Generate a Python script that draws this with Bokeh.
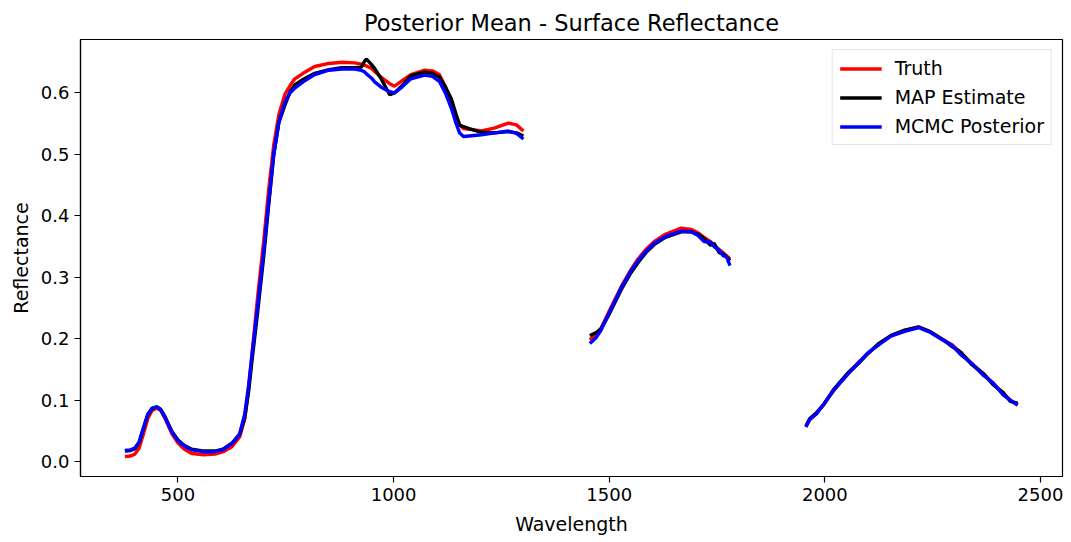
import numpy as np
from bokeh.plotting import figure
from bokeh.models import Legend, LegendItem, NumeralTickFormatter, FixedTicker, Range1d
from bokeh.embed import file_html
from bokeh.resources import INLINE

# ---- data ----
wl_seg1 = [377, 390, 400, 410, 420, 430, 440, 451, 460, 470, 486, 500, 515, 532, 560, 586, 605, 625, 643, 655,
           664, 671, 685, 699, 710, 722, 734, 748, 760, 771, 790, 817, 850, 880, 910, 925, 933, 937, 949, 956,
           972, 991, 1002, 1020, 1040, 1072, 1090, 1106, 1120, 1134, 1145, 1153, 1162, 1175, 1204, 1235, 1266, 1285, 1301]
truth_seg1 = [0.008, 0.009, 0.012, 0.022, 0.045, 0.070, 0.083, 0.087, 0.083, 0.070, 0.045, 0.030, 0.020, 0.013, 0.011,
              0.012, 0.016, 0.024, 0.040, 0.070, 0.120, 0.170, 0.270, 0.360, 0.440, 0.515, 0.565, 0.598, 0.612, 0.623,
              0.632, 0.643, 0.648, 0.650, 0.649, 0.647, 0.645, 0.644, 0.640, 0.635, 0.625, 0.615, 0.611, 0.620, 0.630,
              0.637, 0.636, 0.630, 0.610, 0.580, 0.560, 0.548, 0.542, 0.541, 0.538, 0.543, 0.551, 0.548, 0.538]
map_seg1 = [0.017, 0.018, 0.021, 0.031, 0.054, 0.076, 0.086, 0.089, 0.085, 0.073, 0.049, 0.035, 0.026, 0.020, 0.017,
            0.017, 0.020, 0.030, 0.044, 0.072, 0.115, 0.160, 0.245, 0.335, 0.415, 0.498, 0.552, 0.580, 0.602, 0.613,
            0.622, 0.632, 0.638, 0.641, 0.641, 0.642, 0.652, 0.655, 0.646, 0.640, 0.622, 0.597, 0.600, 0.612, 0.628,
            0.634, 0.632, 0.626, 0.610, 0.590, 0.565, 0.548, 0.545, 0.542, 0.536, 0.535, 0.537, 0.535, 0.530]
mcmc_seg1 = [0.018, 0.019, 0.022, 0.032, 0.055, 0.077, 0.087, 0.089, 0.084, 0.072, 0.048, 0.034, 0.025, 0.019, 0.016,
             0.016, 0.020, 0.029, 0.045, 0.078, 0.125, 0.170, 0.255, 0.343, 0.420, 0.500, 0.553, 0.585, 0.600, 0.608,
             0.618, 0.630, 0.637, 0.639, 0.639, 0.637, 0.634, 0.631, 0.624, 0.618, 0.609, 0.602, 0.600, 0.610, 0.623,
             0.629, 0.627, 0.619, 0.600, 0.575, 0.550, 0.535, 0.529, 0.530, 0.532, 0.535, 0.538, 0.534, 0.525]

wl_seg2 = [1455, 1470, 1481, 1500, 1528, 1550, 1567, 1585, 1604, 1630, 1667, 1690, 1706, 1720, 1735, 1743, 1755, 1764, 1772, 1780]
truth_seg2 = [0.198, 0.208, 0.217, 0.245, 0.285, 0.312, 0.330, 0.345, 0.358, 0.370, 0.380, 0.378, 0.372, 0.365, 0.358,
              0.352, 0.345, 0.340, 0.335, 0.330]
map_seg2 = [0.205, 0.210, 0.216, 0.240, 0.280, 0.307, 0.324, 0.340, 0.353, 0.365, 0.374, 0.374, 0.370, 0.363, 0.352,
            0.355, 0.340, 0.338, 0.333, 0.327]
mcmc_seg2 = [0.192, 0.202, 0.214, 0.242, 0.283, 0.310, 0.327, 0.342, 0.355, 0.366, 0.375, 0.374, 0.368, 0.358, 0.357,
             0.350, 0.344, 0.335, 0.333, 0.319]

wl_seg3 = [1956, 1965, 1980, 1998, 2020, 2053, 2080, 2100, 2125, 2153, 2185, 2218, 2245, 2275, 2295, 2315, 2340, 2368,
           2390, 2414, 2430, 2447]
truth_seg3 = [0.058, 0.068, 0.078, 0.094, 0.115, 0.143, 0.163, 0.176, 0.192, 0.205, 0.213, 0.219, 0.211, 0.198, 0.190,
              0.177, 0.160, 0.142, 0.127, 0.110, 0.100, 0.092]
map_seg3 = [0.057, 0.070, 0.079, 0.093, 0.117, 0.144, 0.161, 0.176, 0.192, 0.205, 0.214, 0.219, 0.211, 0.198, 0.187,
            0.178, 0.158, 0.143, 0.125, 0.112, 0.098, 0.095]
mcmc_seg3 = [0.056, 0.069, 0.077, 0.094, 0.116, 0.142, 0.162, 0.177, 0.190, 0.204, 0.212, 0.218, 0.210, 0.197, 0.189,
             0.174, 0.160, 0.140, 0.128, 0.108, 0.100, 0.092]

x_ticks = [500, 1000, 1500, 2000, 2500]
y_ticks = [0.0, 0.1, 0.2, 0.3, 0.4, 0.5, 0.6]


def join(*segs):
    out = []
    for i, s in enumerate(segs):
        if i:
            out.append(np.nan)
        out.extend(s)
    return np.array(out, dtype=float)


wl = join(wl_seg1, wl_seg2, wl_seg3)
truth = join(truth_seg1, truth_seg2, truth_seg3)
map_est = join(map_seg1, map_seg2, map_seg3)
mcmc = join(mcmc_seg1, mcmc_seg2, mcmc_seg3)

FONT = "DejaVu Sans"

p = figure(width=1071, height=542, output_backend="svg", toolbar_location=None,
           x_range=Range1d(274, 2551), y_range=Range1d(-0.0244, 0.687),
           min_border_left=80, min_border_right=9, min_border_top=39, min_border_bottom=66,
           title="Posterior Mean - Surface Reflectance")
p.title.align = "center"
p.title.text_font = FONT
p.title.text_font_size = "22.5px"
p.title.text_font_style = "normal"
p.title.text_color = "black"
p.title.standoff = 8
p.title.offset = 0

p.grid.visible = False
p.outline_line_color = "black"
p.outline_line_width = 1.2

lw = 3.4
r1 = p.line(wl, truth, line_color="red", line_width=lw)
r2 = p.line(wl, map_est, line_color="black", line_width=lw)
r3 = p.line(wl, mcmc, line_color="blue", line_width=lw)

for ax in (p.xaxis[0], p.yaxis[0]):
    ax.axis_line_color = "black"
    ax.axis_line_width = 1.2
    ax.major_tick_line_color = "black"
    ax.major_tick_line_width = 1.2
    ax.major_tick_out = 6
    ax.major_tick_in = 0
    ax.minor_tick_line_color = None
    ax.major_label_text_font = FONT
    ax.major_label_text_font_size = "18px"
    ax.major_label_text_color = "black"
    ax.axis_label_text_font = FONT
    ax.axis_label_text_font_size = "19px"
    ax.axis_label_text_font_style = "normal"
    ax.axis_label_text_color = "black"

p.xaxis.ticker = FixedTicker(ticks=x_ticks)
p.yaxis.ticker = FixedTicker(ticks=y_ticks)
p.yaxis.formatter = NumeralTickFormatter(format="0.0")
p.xaxis.axis_label = "Wavelength"
p.yaxis.axis_label = "Reflectance"
p.xaxis.major_label_standoff = 5
p.yaxis.major_label_standoff = 5
p.xaxis.axis_label_standoff = 9
p.yaxis.axis_label_standoff = 6

legend = Legend(items=[LegendItem(label="Truth", renderers=[r1]),
                       LegendItem(label="MAP Estimate", renderers=[r2]),
                       LegendItem(label="MCMC Posterior", renderers=[r3])],
                location="top_right")
legend.label_text_font = FONT
legend.label_text_font_size = "19px"
legend.label_text_color = "black"
legend.glyph_width = 42
legend.glyph_height = 21
legend.label_height = 21
legend.label_standoff = 13
legend.spacing = 7
legend.padding = 7
legend.margin = 10
legend.border_line_color = "#cccccc"
legend.border_line_width = 1.2
legend.background_fill_alpha = 0.8
p.add_layout(legend)

open("out.html", "w").write(file_html(p, INLINE))
